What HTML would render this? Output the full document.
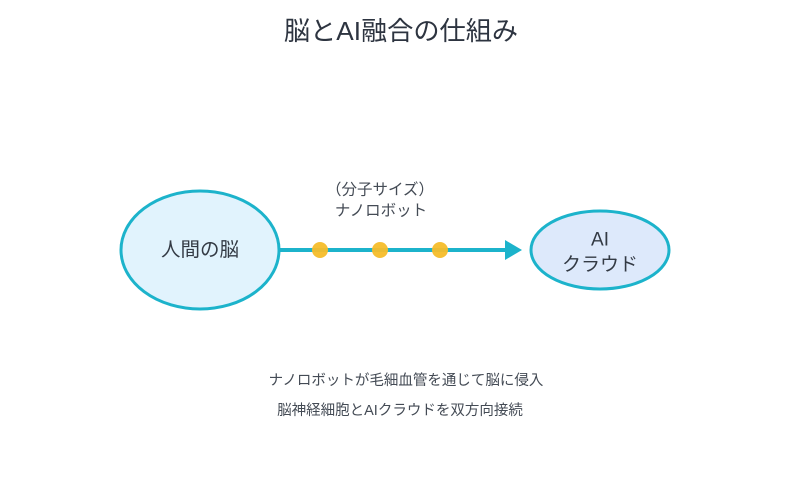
<!DOCTYPE html>
<html><head><meta charset="utf-8"><style>
html,body{margin:0;padding:0;background:#fff;}
svg{display:block;}
text{font-family:"Liberation Sans","Noto Sans CJK JP",sans-serif;}
</style></head><body>
<svg width="800" height="500" viewBox="0 0 800 500" xmlns="http://www.w3.org/2000/svg">
<rect width="800" height="500" fill="#ffffff"/>
<text x="401" y="31" font-size="26.2" fill="#2d3440" text-anchor="middle" dominant-baseline="central">脳とAI融合の仕組み</text>
<ellipse cx="200" cy="250" rx="79" ry="59" fill="#e1f3fd" stroke="#1cb3cb" stroke-width="3"/>
<text x="200" y="250" font-size="19.5" fill="#333a44" text-anchor="middle" dominant-baseline="central">人間の脳</text>
<ellipse cx="600" cy="250" rx="69" ry="39" fill="#dde9fb" stroke="#1cb3cb" stroke-width="3"/>
<text x="600" y="240" font-size="19" fill="#333a44" text-anchor="middle" dominant-baseline="central">AI</text>
<text x="600" y="265" font-size="19" fill="#333a44" text-anchor="middle" dominant-baseline="central">クラウド</text>
<line x1="280" y1="250" x2="507" y2="250" stroke="#1cb3cb" stroke-width="4"/>
<polygon points="505,240 522,250 505,260" fill="#1cb3cb"/>
<circle cx="320" cy="250" r="8" fill="#f5bd2a" opacity="0.95"/>
<circle cx="380" cy="250" r="8" fill="#f5bd2a" opacity="0.95"/>
<circle cx="440" cy="250" r="8" fill="#f5bd2a" opacity="0.95"/>
<text x="380" y="190" font-size="15.5" fill="#444b55" text-anchor="middle" dominant-baseline="central">（分子サイズ）</text>
<text x="381" y="211" font-size="15.5" fill="#444b55" text-anchor="middle" dominant-baseline="central">ナノロボット</text>
<text x="406" y="381" font-size="14.5" fill="#444b55" text-anchor="middle" dominant-baseline="central">ナノロボットが毛細血管を通じて脳に侵入</text>
<text x="400" y="411" font-size="14.5" fill="#444b55" text-anchor="middle" dominant-baseline="central">脳神経細胞とAIクラウドを双方向接続</text>
</svg>
</body></html>
